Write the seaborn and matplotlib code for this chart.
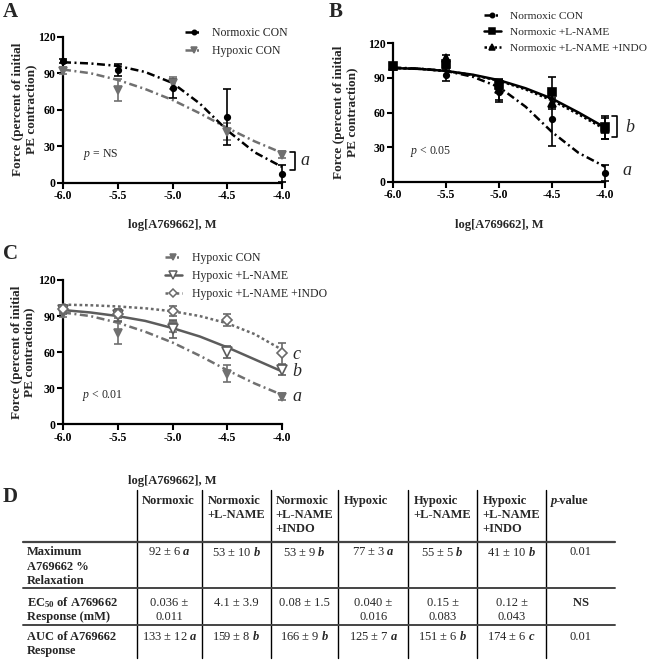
import matplotlib
matplotlib.use("Agg")
import matplotlib.pyplot as plt
import matplotlib.transforms as mtransforms
from matplotlib.lines import Line2D
import seaborn as sns

# ---- values ----
conc = [-6.0, -5.5, -5.0, -4.5, -4.0]
x_ticklabels = ["-6.0", "-5.5", "-5.0", "-4.5", "-4.0"]
y_ticks = [0, 30, 60, 90, 120]
fit_x = [-6.0, -5.75, -5.5, -5.25, -5.0, -4.75, -4.5, -4.25, -4.0]

norm_con_mean = [100, 92.5, 77.5, 54, 7.5]
norm_con_sem = [1.5, 5, 8, 23, 7]
norm_con_fit = [99, 98, 96, 91, 82, 65, 43, 25, 13]

hyp_con_mean = [92, 76, 82, 42, 23]
hyp_con_sem = [3, 9, 5, 7, 3]
hyp_con_fit = [93, 90, 84.5, 77, 68, 57, 45, 34, 24.5]

norm_lname_mean = [100, 102, 84, 78, 47]
norm_lname_sem = [1.5, 3, 4, 13, 10]
norm_lname_fit = [98.5, 97.8, 96, 92.8, 88, 81, 72, 60, 47]

norm_indo_mean = [100, 107, 80, 68, 46]
norm_indo_sem = [1.5, 3, 9, 5, 9]
norm_indo_fit = [98.5, 97.8, 96, 92.5, 87.5, 80, 70.5, 58.5, 45.5]

hyp_lname_mean = [95, 91, 79, 60, 45]
hyp_lname_sem = [3, 5, 7, 5, 4]
hyp_lname_fit = [95, 93, 90, 86, 80, 73, 64, 54, 44]

hyp_indo_mean = [96, 92, 94, 87, 59]
hyp_indo_sem = [3, 4, 4, 5, 9]
hyp_indo_fit = [99.5, 99, 98, 96.5, 94, 90, 84, 75, 62]

# table D
table_cols = ["Normoxic", "Normoxic\n+L-NAME", "Normoxic\n+L-NAME\n+INDO", "Hypoxic",
              "Hypoxic\n+L-NAME", "Hypoxic\n+L-NAME\n+INDO", "p|-value"]
table_rows = ["Maximum\nA769662 %\nRelaxation", r"EC$_{\mathsf{50}}$ of A769662" + "\nResponse (mM)",
              "AUC of A769662\nResponse"]
max_relax = [r"92 ± 6 $\mathbf{a}$", r"53 ± 10 $\mathbf{b}$", r"53 ± 9 $\mathbf{b}$", r"77 ± 3 $\mathbf{a}$",
             r"55 ± 5 $\mathbf{b}$", r"41 ± 10 $\mathbf{b}$", "0.01"]
ec50 = ["0.036 ±\n0.011", "4.1 ± 3.9", "0.08 ± 1.5", "0.040 ±\n0.016", "0.15 ±\n0.083", "0.12 ±\n0.043",
        r"$\mathsf{NS}$"]
auc = [r"133 ± 12 $\mathbf{a}$", r"159 ± 8 $\mathbf{b}$", r"166 ± 9 $\mathbf{b}$", r"125 ± 7 $\mathbf{a}$",
       r"151 ± 6 $\mathbf{b}$", r"174 ± 6 $\mathbf{c}$", "0.01"]

# ---- style ----
sns.set_theme(style="ticks")
plt.rcParams["font.family"] = ["Liberation Serif", "DejaVu Serif"]
plt.rcParams["axes.unicode_minus"] = False
plt.rcParams["mathtext.fontset"] = "custom"
plt.rcParams["mathtext.rm"] = "Liberation Serif"
plt.rcParams["mathtext.it"] = "Liberation Serif:italic"
plt.rcParams["mathtext.bf"] = "Liberation Serif:italic:bold"
plt.rcParams["mathtext.sf"] = "Liberation Serif:bold"
plt.rcParams["axes.edgecolor"] = "black"
plt.rcParams["xtick.color"] = "black"
plt.rcParams["ytick.color"] = "black"

DASHDOT = (0, (3.2, 1.4, 0.8, 1.4))
styles = {
    "Normoxic CON": dict(color="black", ls=DASHDOT, marker="o", ms=4, mfc="black"),
    "Hypoxic CON": dict(color="#707070", ls=DASHDOT, marker="v", ms=6, mfc="#707070"),
    "Normoxic +L-NAME": dict(color="black", ls="-", marker="s", ms=5.5, mfc="black"),
    "Normoxic +L-NAME +INDO": dict(color="black", ls=(0, (1, 1)), marker="^", ms=5.5, mfc="black"),
    "Hypoxic +L-NAME": dict(color="#5c5c5c", ls="-", marker="v", ms=7, mfc="white"),
    "Hypoxic +L-NAME +INDO": dict(color="#6a6a6a", ls=(0, (1.1, 1.1)), marker="D", ms=5, mfc="white"),
}

W, H = 650, 661
fig = plt.figure(figsize=(W / 100, H / 100), dpi=100)


def px_axes(left, top, right, bottom):
    return fig.add_axes([left / W, 1 - bottom / H, (right - left) / W, (bottom - top) / H])


def draw_series(ax, name, mean, sem, fit):
    st = styles[name]
    sns.lineplot(x=fit_x, y=fit, ax=ax, color=st["color"], linestyle=st["ls"],
                 linewidth=1.8, clip_on=False, zorder=2)
    cont = ax.errorbar(conc, mean, yerr=sem, fmt=st["marker"], ms=st["ms"], mfc=st["mfc"],
                       mec=st["color"], mew=1.2, color=st["color"], ecolor=st["color"],
                       elinewidth=1.2, capsize=3.2, capthick=1.2, zorder=3)
    for art in cont.get_children():
        art.set_clip_on(False)


def style_axes(ax, ylab_x, xlab_y):
    ax.set_xlim(-6, -4)
    ax.set_ylim(0, 120)
    ax.set_xticks(conc)
    ax.set_xticklabels(x_ticklabels)
    ax.set_yticks(y_ticks)
    ax.tick_params(direction="out", length=4, width=1.5, labelsize=8.5, pad=1.5)
    for lab in ax.get_xticklabels() + ax.get_yticklabels():
        lab.set_fontweight("bold")
    for sp in ("left", "bottom"):
        ax.spines[sp].set_linewidth(1.6)
    sns.despine(ax=ax)
    ax.set_ylabel("Force (percent of initial\nPE contraction)", fontsize=9.5, fontweight="bold",
                  linespacing=1.05)
    ax.yaxis.set_label_coords(ylab_x, 0.5)
    ax.set_xlabel("log[A769662], M", fontsize=9, fontweight="bold")
    ax.xaxis.set_label_coords(0.5, xlab_y)


def add_legend(ax, names, x, y, fs=8.5):
    handles = []
    for n in names:
        st = styles[n]
        handles.append(Line2D([0], [0], color=st["color"], ls=st["ls"], lw=1.8, marker=st["marker"],
                              ms=st["ms"] * 0.8, mfc=st["mfc"], mec=st["color"], mew=1.1))
    ax.legend(handles, names, loc="upper left", bbox_to_anchor=(x, y), frameon=False, fontsize=fs,
              handlelength=1.5, handletextpad=0.8, labelspacing=0.5, borderaxespad=0, numpoints=1)


def bracket(ax, x0, x1, ytop, ybot):
    tr = mtransforms.blended_transform_factory(ax.transAxes, ax.transData)
    ax.plot([x0, x1, x1, x0], [ytop, ytop, ybot, ybot], color="black", lw=1.2,
            transform=tr, clip_on=False)


def letter(ax, x, y, s):
    tr = mtransforms.blended_transform_factory(ax.transAxes, ax.transData)
    ax.text(x, y, s, transform=tr, fontsize=13, fontstyle="italic", ha="center", va="center")


# ---- panel A ----
axA = px_axes(63, 36.7, 282, 182.7)
draw_series(axA, "Hypoxic CON", hyp_con_mean, hyp_con_sem, hyp_con_fit)
draw_series(axA, "Normoxic CON", norm_con_mean, norm_con_sem, norm_con_fit)
style_axes(axA, -0.119, -0.25)
add_legend(axA, ["Normoxic CON", "Hypoxic CON"], 0.534, 1.10)
axA.text(0.09, 0.19, "$p$ = NS", transform=axA.transAxes, fontsize=8.5, va="center")
bracket(axA, 1.037, 1.06, 25.5, 10.4)
letter(axA, 1.105, 18, "a")

# ---- panel B ----
axB = px_axes(393.3, 43.3, 605, 181.7)
draw_series(axB, "Normoxic CON", norm_con_mean, norm_con_sem, norm_con_fit)
draw_series(axB, "Normoxic +L-NAME +INDO", norm_indo_mean, norm_indo_sem, norm_indo_fit)
draw_series(axB, "Normoxic +L-NAME", norm_lname_mean, norm_lname_sem, norm_lname_fit)
style_axes(axB, -0.167, -0.27)
add_legend(axB, ["Normoxic CON", "Normoxic +L-NAME", "Normoxic +L-NAME +INDO"], 0.405, 1.264, fs=8.2)
axB.text(0.08, 0.217, "$p$ < 0.05", transform=axB.transAxes, fontsize=8.5, va="center")
bracket(axB, 1.033, 1.057, 57, 39)
letter(axB, 1.118, 47, "b")
letter(axB, 1.104, 10, "a")

# ---- panel C ----
axC = px_axes(63, 280, 282, 424.3)
draw_series(axC, "Hypoxic CON", hyp_con_mean, hyp_con_sem, hyp_con_fit)
draw_series(axC, "Hypoxic +L-NAME", hyp_lname_mean, hyp_lname_sem, hyp_lname_fit)
draw_series(axC, "Hypoxic +L-NAME +INDO", hyp_indo_mean, hyp_indo_sem, hyp_indo_fit)
style_axes(axC, -0.128, -0.35)
add_legend(axC, ["Hypoxic CON", "Hypoxic +L-NAME", "Hypoxic +L-NAME +INDO"], 0.442, 1.224)
axC.text(0.087, 0.2, "$p$ < 0.01", transform=axC.transAxes, fontsize=8.5, va="center")
letter(axC, 1.067, 57.7, "c")
letter(axC, 1.067, 43.8, "b")
letter(axC, 1.067, 23, "a")

# ---- overlay: panel letters and table D ----
ov = fig.add_axes([0, 0, 1, 1])
ov.set_xlim(0, W)
ov.set_ylim(H, 0)
ov.axis("off")
ov.patch.set_visible(False)

for s, (x, y) in zip("ABCD", [(10, 12), (336, 12), (10, 254), (10, 497)]):
    ov.text(x, y, s, fontsize=15, fontweight="bold", ha="center", va="center")

col_edges = [22.7, 136.7, 202.3, 270.7, 338.3, 408.3, 477.3, 546, 615]
STEP = 14.3
for xe in col_edges[1:-1]:
    ov.plot([xe, xe], [490, 658], color="black", lw=1.0)
for yr, lw in [(541.7, 1.6), (588.3, 1.4), (625, 1.4)]:
    ov.plot([col_edges[0], col_edges[-1]], [yr, yr], color="#444444", lw=lw)

for j, lab in enumerate(table_cols):
    for k, line in enumerate(lab.split("\n")):
        x, y = col_edges[j + 1] + 5, 500.7 + k * STEP
        if "|" in line:
            # italic-bold p followed by "-value"
            head, tail = line.split("|")
            t = ov.text(x, y, head, ha="left", va="center", fontsize=9, fontweight="bold",
                        fontstyle="italic")
            ov.annotate(tail, xy=(1, 0), xycoords=t, xytext=(-1.5, 0), textcoords="offset points",
                        ha="left", va="bottom", fontsize=9, fontweight="bold")
        else:
            ov.text(x, y, line, ha="left", va="center", fontsize=9, fontweight="bold")

row_tops = [552.3, 602.7, 636.7]
for i, (lab, vals) in enumerate(zip(table_rows, [max_relax, ec50, auc])):
    for k, line in enumerate(lab.split("\n")):
        ov.text(26.7, row_tops[i] + k * STEP, line, ha="left", va="center", fontsize=9, fontweight="bold")
    for j, v in enumerate(vals):
        cx = (col_edges[j + 1] + col_edges[j + 2]) / 2
        for k, line in enumerate(v.split("\n")):
            ov.text(cx, row_tops[i] + k * STEP, line, ha="center", va="center", fontsize=9)

fig.savefig("out.png", dpi=100)
